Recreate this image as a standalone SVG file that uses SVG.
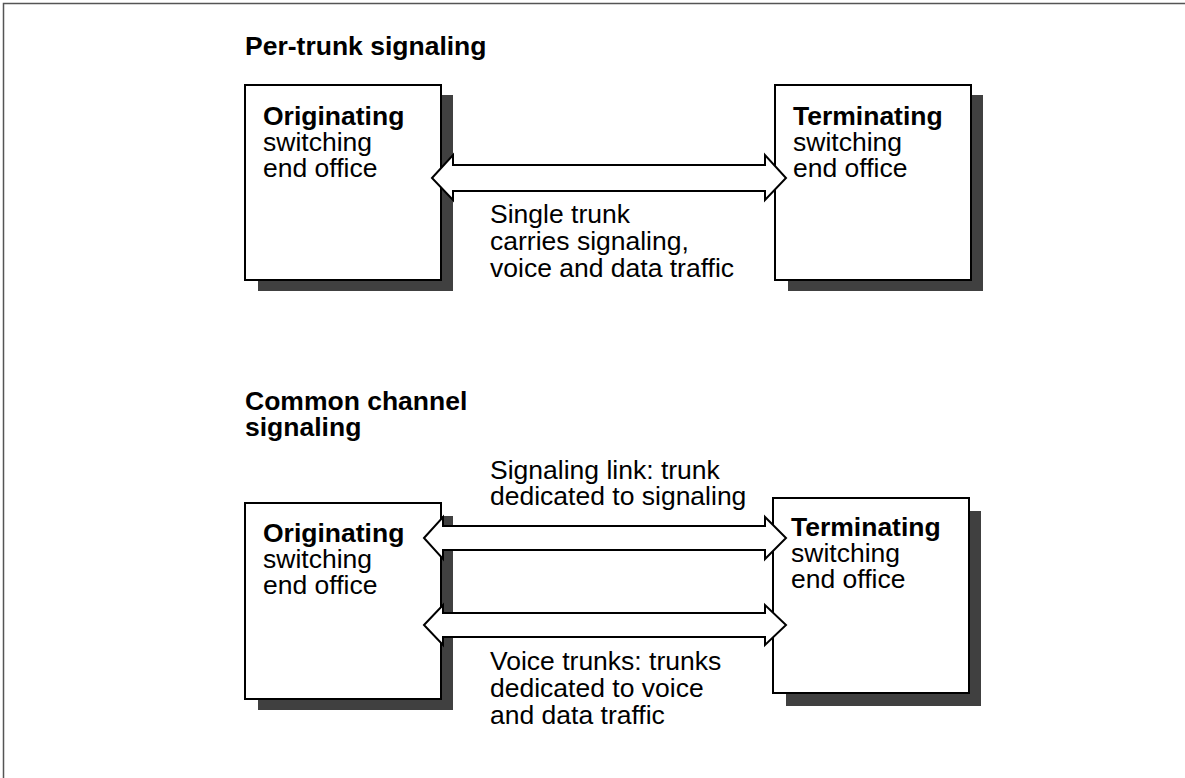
<svg xmlns="http://www.w3.org/2000/svg" width="1185" height="778" viewBox="0 0 1185 778">
<defs>
<style>
text{font-family:"Liberation Sans",Arial,sans-serif;font-size:26.5px;fill:#000}
.b{font-weight:bold}
.box{fill:#fff;stroke:#000;stroke-width:2}
.sh{fill:#404040}
.arr{fill:#fff;stroke:#000;stroke-width:2;stroke-linejoin:miter}
</style>
</defs>
<rect x="0" y="0" width="1185" height="778" fill="#fff"/>
<rect x="3.5" y="3.5" width="1200" height="800" fill="none" stroke="#555" stroke-width="1.5"/>
<text class="b" x="245" y="55">Per-trunk signaling</text>
<text class="b" x="245" y="410">Common channel</text>
<text class="b" x="245" y="436">signaling</text>
<g id="orig1">
<rect class="sh" x="258" y="95" width="195" height="196"/>
<rect class="box" x="245" y="85" width="196" height="195"/>
<text class="b" x="263" y="125">Originating</text>
<text x="263" y="151">switching</text>
<text x="263" y="177">end office</text>
</g>
<g id="term1">
<rect class="sh" x="788" y="95" width="195" height="196"/>
<rect class="box" x="775" y="85" width="196" height="195"/>
<text class="b" x="793" y="125">Terminating</text>
<text x="793" y="151">switching</text>
<text x="793" y="177">end office</text>
</g>
<g id="orig2">
<rect class="sh" x="258" y="516" width="195" height="194"/>
<rect class="box" x="245" y="503" width="196" height="196"/>
<text class="b" x="263" y="542">Originating</text>
<text x="263" y="568">switching</text>
<text x="263" y="594">end office</text>
</g>
<g id="term2">
<rect class="sh" x="786" y="511" width="195" height="195"/>
<rect class="box" x="773" y="498" width="196" height="195"/>
<text class="b" x="791" y="536">Terminating</text>
<text x="791" y="562">switching</text>
<text x="791" y="588">end office</text>
</g>
<g id="connectors">
<polygon class="arr" points="432,178 453,155 453,165 765,165 765,155 786,178 765,200 765,191 453,191 453,200"/>
<polygon class="arr" points="424,538 443,517 443,526 765,526 765,517 786,538 765,559 765,550 443,550 443,559"/>
<polygon class="arr" points="424,625 443,605 443,613 765,613 765,605 786,625 765,645 765,637 443,637 443,645"/>
</g>
<text x="490" y="223">Single trunk</text>
<text x="490" y="250">carries signaling,</text>
<text x="490" y="277">voice and data traffic</text>
<text x="490" y="479">Signaling link: trunk</text>
<text x="490" y="505">dedicated to signaling</text>
<text x="490" y="670">Voice trunks: trunks</text>
<text x="490" y="697">dedicated to voice</text>
<text x="490" y="724">and data traffic</text>
</svg>
